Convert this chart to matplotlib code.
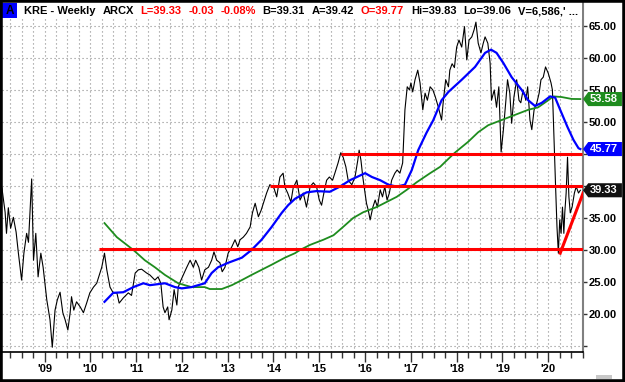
import matplotlib
matplotlib.use("Agg")
import matplotlib.pyplot as plt
from matplotlib.patches import Rectangle, Polygon
from matplotlib.ticker import MultipleLocator, FixedLocator, FuncFormatter
from matplotlib.transforms import blended_transform_factory

plt.rcParams["font.family"] = ["Liberation Sans", "DejaVu Sans"]

# ---- data (decimal years, price) ----
price_t = [
    2008.07, 2008.14, 2008.17, 2008.21, 2008.26, 2008.32, 2008.38, 2008.43, 2008.50, 2008.55,
    2008.61, 2008.65, 2008.72, 2008.76, 2008.81, 2008.86, 2008.92, 2008.97, 2009.05, 2009.12,
    2009.17, 2009.23, 2009.28, 2009.34, 2009.40, 2009.45, 2009.51, 2009.56, 2009.59, 2009.64,
    2009.70, 2009.78, 2009.85, 2009.92, 2009.99, 2010.07, 2010.14, 2010.21, 2010.25, 2010.31,
    2010.36, 2010.43, 2010.50, 2010.58, 2010.63, 2010.72, 2010.83, 2010.90, 2010.98, 2011.05,
    2011.12, 2011.23, 2011.30, 2011.41, 2011.48, 2011.54, 2011.59, 2011.63, 2011.69, 2011.72,
    2011.78, 2011.83, 2011.89, 2011.92, 2011.98, 2012.03, 2012.10, 2012.18, 2012.25, 2012.30,
    2012.37, 2012.43, 2012.50, 2012.58, 2012.65, 2012.70, 2012.76, 2012.83, 2012.88, 2012.94,
    2013.01, 2013.09, 2013.16, 2013.22, 2013.27, 2013.34, 2013.41, 2013.49, 2013.54, 2013.60,
    2013.67, 2013.73, 2013.80, 2013.85, 2013.92, 2014.00, 2014.07, 2014.14, 2014.21, 2014.25,
    2014.31, 2014.38, 2014.43, 2014.51, 2014.58, 2014.65, 2014.72, 2014.80, 2014.87, 2014.94,
    2015.00, 2015.05, 2015.10, 2015.16, 2015.22, 2015.29, 2015.34, 2015.41, 2015.47, 2015.52,
    2015.58, 2015.63, 2015.71, 2015.78, 2015.84, 2015.87, 2015.91, 2015.95, 2016.00, 2016.03,
    2016.07, 2016.11, 2016.17, 2016.22, 2016.27, 2016.33, 2016.38, 2016.43, 2016.48, 2016.53,
    2016.58, 2016.65, 2016.70, 2016.76, 2016.82, 2016.85, 2016.87, 2016.92, 2016.97, 2017.00,
    2017.04, 2017.09, 2017.15, 2017.20, 2017.26, 2017.31, 2017.36, 2017.42, 2017.48, 2017.53,
    2017.60, 2017.67, 2017.71, 2017.76, 2017.82, 2017.85, 2017.90, 2017.95, 2018.00, 2018.05,
    2018.11, 2018.17, 2018.22, 2018.27, 2018.33, 2018.38, 2018.42, 2018.47, 2018.53, 2018.58,
    2018.62, 2018.68, 2018.73, 2018.76, 2018.82, 2018.87, 2018.92, 2018.97, 2019.02, 2019.07,
    2019.11, 2019.16, 2019.20, 2019.25, 2019.31, 2019.36, 2019.40, 2019.45, 2019.51, 2019.55,
    2019.60, 2019.64, 2019.69, 2019.75, 2019.80, 2019.84, 2019.89, 2019.94, 2020.00, 2020.06,
    2020.09, 2020.13, 2020.16, 2020.19, 2020.22, 2020.25, 2020.28, 2020.31, 2020.34, 2020.36,
    2020.39, 2020.42, 2020.45, 2020.48, 2020.52, 2020.57, 2020.61, 2020.66, 2020.70,
]
price_v = [
    39.7, 35.9, 32.6, 36.6, 33.4, 35.1, 32.8, 29.5, 25.3, 29.5,
    32.6, 31.2, 41.1, 28.4, 32.6, 25.8, 29.5, 27.3, 22.2, 19.1,
    14.8, 20.6, 22.2, 23.4, 20.2, 19.1, 17.5, 20.2, 22.7, 20.6,
    21.9, 21.1, 20.2, 21.7, 23.3, 24.2, 24.8, 26.4, 27.3, 29.5,
    26.9, 24.2, 23.3, 23.3, 21.7, 22.5, 23.3, 22.9, 26.4, 26.9,
    27.0, 26.4, 26.1, 25.3, 25.8, 24.8, 21.1, 20.2, 21.1, 19.1,
    20.6, 23.8, 21.4, 24.2, 25.3, 26.1, 27.2, 28.4, 27.3, 28.4,
    27.3, 25.3, 26.9, 27.3, 28.4, 29.7, 28.4, 28.0, 26.6, 27.3,
    29.5, 30.5, 31.6, 30.5, 31.6, 32.0, 32.6, 33.6, 35.8, 37.3,
    35.2, 36.2, 37.8, 38.9, 40.2, 39.9, 38.3, 41.4, 42.0, 39.8,
    38.9, 37.5, 39.7, 40.9, 37.8, 38.9, 36.7, 39.9, 40.5, 39.9,
    37.8, 37.0, 38.9, 40.9, 41.4, 40.9, 42.0, 43.6, 45.2, 44.5,
    43.0, 40.9, 40.2, 41.4, 44.0, 45.6, 44.0, 41.4, 38.9, 37.3,
    36.2, 34.7, 36.7, 37.8, 36.7, 39.4, 38.3, 39.9, 37.8, 38.9,
    40.9, 42.0, 42.5, 42.0, 43.6, 48.8, 51.9, 55.5, 55.0, 56.1,
    54.7, 56.6, 58.1, 56.1, 51.9, 54.5, 53.4, 55.5, 55.0, 54.0,
    52.3, 50.3, 53.4, 56.6, 55.5, 58.1, 59.1, 58.5, 61.7, 62.8,
    61.7, 64.9, 59.7, 62.8, 63.3, 64.4, 65.6, 62.3, 60.8, 62.3,
    63.3, 62.3, 59.2, 53.4, 55.0, 52.3, 55.5, 45.3, 48.8, 53.0,
    56.6, 54.5, 49.8, 53.9, 56.6, 53.4, 53.0, 55.0, 53.4, 55.5,
    50.3, 48.8, 51.9, 53.0, 54.5, 56.6, 57.0, 58.6, 57.6, 56.1,
    55.0, 46.1, 39.8, 33.6, 29.5, 34.7, 32.6, 36.7, 32.6, 35.8,
    38.9, 44.5, 38.3, 35.8, 36.7, 38.9, 39.9, 38.9, 39.33,
]

# slow moving average (green)
slow_t = [
    2010.31, 2010.58, 2010.94, 2011.19, 2011.41, 2011.63, 2011.92, 2012.21, 2012.50, 2012.61,
    2012.87, 2013.09, 2013.31, 2013.52, 2013.74, 2013.96, 2014.25, 2014.47, 2014.58, 2014.80,
    2015.09, 2015.31, 2015.52, 2015.74, 2015.96, 2016.25, 2016.47, 2016.69, 2016.91, 2017.13,
    2017.42, 2017.64, 2017.74, 2017.96, 2018.25, 2018.47, 2018.69, 2018.98, 2019.27, 2019.56,
    2019.78, 2020.00, 2020.11, 2020.29, 2020.51, 2020.70,
]
slow_v = [
    34.2, 32.0, 30.0, 28.4, 27.3, 26.1, 24.8, 24.2, 24.2, 23.9,
    23.9, 24.5, 25.3, 26.1, 26.9, 27.7, 28.8, 29.5, 30.0, 30.8,
    31.6, 32.3, 33.6, 35.0, 35.9, 36.7, 37.5, 38.3, 39.4, 40.6,
    42.0, 43.0, 43.7, 45.2, 46.9, 48.4, 49.5, 50.3, 51.1, 51.9,
    52.3, 53.4, 54.0, 53.9, 53.6, 53.58,
]

# fast moving average (blue)
fast_t = [
    2010.31, 2010.50, 2010.72, 2010.94, 2011.16, 2011.30, 2011.63, 2011.85, 2012.00, 2012.21,
    2012.50, 2012.65, 2012.79, 2013.01, 2013.31, 2013.52, 2013.74, 2013.96, 2014.18, 2014.32,
    2014.47, 2014.72, 2014.94, 2015.23, 2015.45, 2015.67, 2015.82, 2016.00, 2016.15, 2016.33,
    2016.51, 2016.69, 2016.87, 2017.02, 2017.16, 2017.34, 2017.49, 2017.67, 2017.82, 2018.11,
    2018.40, 2018.62, 2018.75, 2018.87, 2019.02, 2019.20, 2019.42, 2019.56, 2019.71, 2019.86,
    2020.04, 2020.15, 2020.26, 2020.42, 2020.55, 2020.66, 2020.70,
]
fast_v = [
    21.9, 23.3, 23.4, 24.2, 24.8, 24.5, 24.8, 24.2, 24.0, 24.2,
    24.8, 26.4, 27.3, 28.0, 28.8, 30.0, 31.6, 33.6, 35.8, 37.0,
    38.0, 39.0, 39.2, 39.1, 39.9, 40.9, 41.4, 42.0, 41.4, 40.9,
    40.2, 39.9, 40.2, 42.5, 45.6, 48.3, 50.3, 53.4, 54.7, 56.6,
    58.6, 60.8, 61.3, 60.8, 59.2, 57.0, 55.0, 53.4, 52.5, 53.0,
    54.0, 53.8, 51.9, 49.2, 47.2, 45.9, 45.77,
]

# support / resistance lines: (start, end, level)
hlines = [(2010.19, 2020.76, 30.1), (2013.92, 2020.76, 40.0), (2015.47, 2020.74, 45.0)]
trend_t = [2020.26, 2020.76]
trend_v = [29.5, 38.9]

last_labels = [(53.58, "#1e8c1e"), (45.77, "#0000ff"), (39.33, "#111111")]
year_labels = list(range(2009, 2021))
y_ticks = list(range(15, 70, 5))
hidden_y = [15, 40, 45]  # covered by the tags in the original

header = [
    ("KRE - Weekly", "black"), ("ARCX", "black"),
    ("L=39.33", "#ff0000"), ("-0.03", "#ff0000"), ("-0.08%", "#ff0000"),
    ("B=39.31", "black"), ("A=39.42", "black"),
    ("O=39.77", "#ff0000"),
    ("Hi=39.83", "black"), ("Lo=39.06", "black"), ("V=6,586,' ...", "black"),
]

W, H = 625, 382
fig = plt.figure(figsize=(W / 100, H / 100), dpi=100)
ax = fig.add_axes([2 / W, 30 / H, 581 / W, 349 / H])

ax.plot(price_t, price_v, color="black", lw=0.8, zorder=3)
ax.plot(slow_t, slow_v, color="#1e8c1e", lw=1.3, zorder=4)
ax.plot(fast_t, fast_v, color="#0000ff", lw=1.6, zorder=4)
for x0, x1, lvl in hlines:
    ax.plot([x0, x1], [lvl, lvl], color="#ff0000", lw=2.2, zorder=5, solid_capstyle="butt")
ax.plot(trend_t, trend_v, color="#ff0000", lw=2.2, zorder=5)

ax.set_xlim(2008.072, 2020.758)
ax.set_ylim(14.06, 68.59)

# ---- axes styling ----
for s in ["top", "left"]:
    ax.spines[s].set_visible(False)
ax.spines["right"].set_color("#808080")
ax.spines["right"].set_linewidth(1.5)
ax.spines["bottom"].set_color("black")
ax.spines["bottom"].set_linewidth(1.2)

ax.xaxis.set_major_locator(FixedLocator(year_labels))
ax.xaxis.set_minor_locator(MultipleLocator(0.25))
ax.xaxis.set_major_formatter(FuncFormatter(lambda v, p: "'%02d" % (int(round(v)) % 100)))
ax.tick_params(axis="x", which="major", length=7, width=1, color="#333333",
               labelsize=8, pad=2)
ax.tick_params(axis="x", which="minor", length=4, width=1, color="#333333")
for lab in ax.get_xticklabels():
    lab.set_fontweight("bold")

ax.yaxis.tick_right()
ax.yaxis.set_major_locator(FixedLocator(y_ticks))
ax.yaxis.set_major_formatter(
    FuncFormatter(lambda v, p: "" if int(round(v)) in hidden_y else "%.2f" % v))
ax.tick_params(axis="y", which="major", length=3, width=1, color="#333333",
               labelsize=8, pad=1)
for lab in ax.get_yticklabels():
    lab.set_fontweight("bold")

grid_kw = dict(color="#8c8c8c", lw=0.8, linestyle=(0, (1, 2.6)))
ax.xaxis.grid(True, which="both", **grid_kw)
ax.yaxis.grid(True, which="major", **grid_kw)

# white band behind the header text
ax.add_patch(Rectangle((0, 333 / 349), 0.998, 1 - 333 / 349, transform=ax.transAxes,
                       facecolor="white", edgecolor="none", zorder=6))

# ---- last-value tags on the right ----
tr = blended_transform_factory(ax.transAxes, ax.transData)
hh = 1.1
for val, col in last_labels:
    pts = [(1.0, val), (1.009, val + hh), (1.067, val + hh), (1.067, val - hh), (1.009, val - hh)]
    ax.add_patch(Polygon(pts, closed=True, transform=tr, facecolor=col, edgecolor="none",
                         clip_on=False, zorder=7))
    ax.text(1.036, val, "%.2f" % val, transform=tr, color="white", fontsize=8,
            fontweight="bold", ha="center", va="center", clip_on=False, zorder=8)

# ---- header: tokens spread evenly between x=24 and x=578 px ----
fig.patches.append(Rectangle((2 / W, 1 - 18 / H), 15 / W, 15 / H, transform=fig.transFigure,
                             facecolor="#0000ff", edgecolor="none"))
fig.text(9.5 / W, 1 - 11 / H, "A", color="black", fontsize=8.5, fontweight="bold",
         ha="center", va="center")
htexts = [fig.text(0, 1 - 11 / H, txt, color=col, fontsize=8, fontweight="bold",
                   ha="left", va="center") for txt, col in header]
renderer = fig.canvas.get_renderer()
widths = [t.get_window_extent(renderer).width for t in htexts]
gap = (578 - 24 - sum(widths)) / (len(widths) - 1)
xpos = 24
for t, w in zip(htexts, widths):
    t.set_x(xpos / W)
    xpos += w + gap

# frame and scroll bar stub
fig.patches.append(Rectangle((596 / W, 3 / H), 16 / W, 4 / H, transform=fig.transFigure,
                             facecolor="#c8c8c8", edgecolor="none"))
fig.patches.append(Rectangle((0, 0), 1, 1, transform=fig.transFigure, fill=False,
                             edgecolor="black", lw=4))

fig.savefig("out.png", dpi=100)
